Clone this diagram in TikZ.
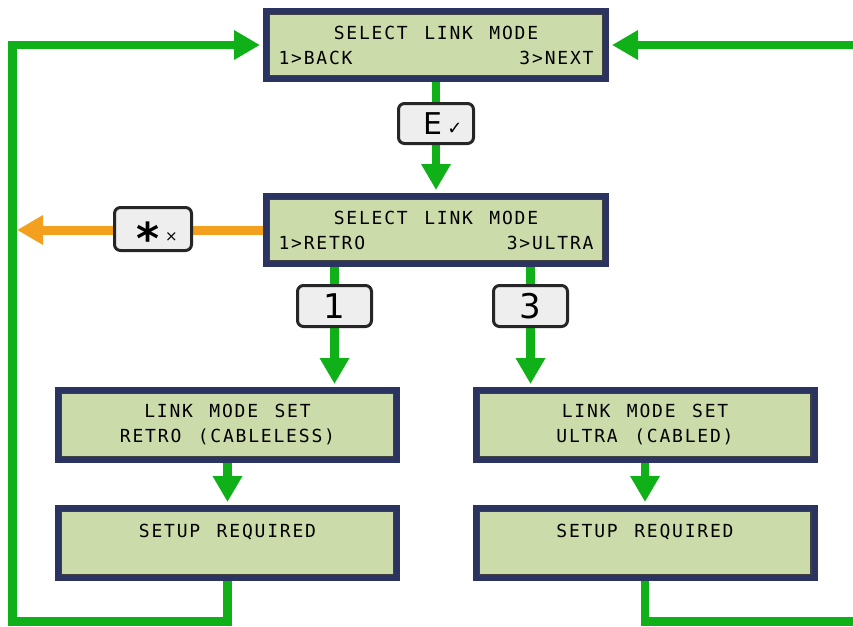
\documentclass[tikz,border=0pt]{standalone}
\usepackage{fontspec}
\setmainfont{DejaVu Sans}
\setmonofont{DejaVu Sans Mono}[LetterSpace=10, WordSpace=1.3]
\usetikzlibrary{arrows.meta,backgrounds}
\definecolor{lcdfill}{RGB}{204,219,170}
\definecolor{lcdframe}{RGB}{43,52,96}
\definecolor{flowgreen}{RGB}{16,176,24}
\definecolor{escorange}{RGB}{242,160,30}
\definecolor{keyfill}{RGB}{238,238,238}

\begin{document}
\begin{tikzpicture}[x=1pt, y=-1pt,
		>={Triangle[length=26pt, width=28pt]},
		lcd/.style={draw=lcdframe, line width=6pt, fill=lcdfill, inner sep=0pt,
			minimum width=340pt, minimum height=68pt, text width=315pt, align=flush center,
			font=\ttfamily\fontsize{18}{25}\selectfont,
			path picture={\draw[line width=1.2pt, black!75]
				([shift={(3.6pt,-3.6pt)}]path picture bounding box.north west) rectangle
				([shift={(-3.6pt,3.6pt)}]path picture bounding box.south east);}},
		key/.style={draw=black!85, line width=3pt, fill=keyfill, rounded corners=6pt,
			inner sep=0pt, text height=0pt, text depth=0pt},
		flow/.style={draw=flowgreen, line width=8.5pt},
		tolcd/.style={flow, ->, shorten >=3pt},
		escape/.style={draw=escorange, line width=9pt, ->}]
	\useasboundingbox (0,0) rectangle (853,626);

	% menu screens
	\node[lcd] (selTop) at (436,45) {SELECT LINK MODE\\1>BACK\hfill 3>NEXT};
	\node[lcd] (selMode) at (436,230) {SELECT LINK MODE\\1>RETRO\hfill 3>ULTRA};
	\node[lcd, minimum width=339pt, minimum height=70pt] (retroSet) at (227.5,425) {LINK MODE SET\\RETRO (CABLELESS)};
	\node[lcd, minimum width=339pt, minimum height=70pt] (retroSetup) at (227.5,543) {SETUP REQUIRED\\\mbox{}};
	\node[lcd, minimum width=339pt, minimum height=70pt] (ultraSet) at (645,425) {LINK MODE SET\\ULTRA (CABLED)};
	\node[lcd, minimum width=339pt, minimum height=70pt] (ultraSetup) at (645,543) {SETUP REQUIRED\\\mbox{}};

	% keys
	\node[key, minimum width=75pt, minimum height=40pt] (keyE) at (436,123.5)
		{\hspace*{14pt}\raisebox{-11pt}{\fontsize{30}{30}\selectfont E\,\fontsize{18}{18}\selectfont ✓}};
	\node[key, minimum width=77pt, minimum height=43pt] (keyStar) at (153,229)
		{\hspace*{8pt}\raisebox{-25pt}{\fontsize{44}{44}\selectfont\bfseries *}\hspace{6pt}\raisebox{-12.5pt}{\fontsize{15}{15}\selectfont ×}};
	\node[key, minimum width=74pt, minimum height=41pt] (keyOne) at (334.5,306)
		{\raisebox{-12.4pt}{\fontsize{34}{34}\selectfont 1}};
	\node[key, minimum width=74pt, minimum height=41pt] (keyThree) at (530.5,306)
		{\raisebox{-12.4pt}{\fontsize{34}{34}\selectfont 3}};

	\coordinate (loopL) at (12.5,621.5);
	\coordinate (loopR) at (853,621.5);
	\coordinate (entryR) at (853,45);
	\coordinate (exitL) at (17,230);

	\begin{scope}[on background layer]
		\draw[flow] (selTop.south) -- (keyE);
		\draw[tolcd] (keyE) -- (selMode.north);
		\draw[flow] (selMode.south -| keyOne) -- (keyOne);
		\draw[tolcd] (keyOne) -- (keyOne |- retroSet.north);
		\draw[flow] (selMode.south -| keyThree) -- (keyThree);
		\draw[tolcd] (keyThree) -- (keyThree |- ultraSet.north);
		\draw[tolcd] (retroSet) -- (retroSetup.north);
		\draw[tolcd] (ultraSet) -- (ultraSetup.north);
		\draw[tolcd] (retroSetup.south) -- (retroSetup.south |- loopL) -- (loopL) |- (selTop.west);
		\draw[flow] (ultraSetup.south) -- (ultraSetup.south |- loopR) -- (loopR);
		\draw[tolcd] (entryR) -- (selTop.east);
		\draw[escape] (selMode.west) -- (exitL);
	\end{scope}
\end{tikzpicture}
\end{document}
